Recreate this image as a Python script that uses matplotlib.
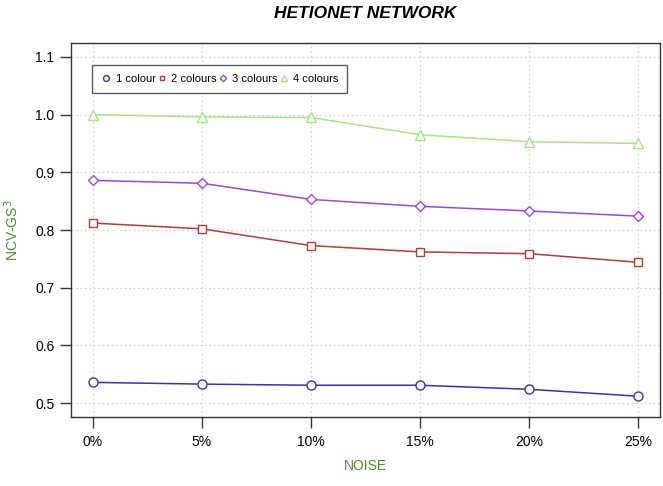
import matplotlib
matplotlib.use("Agg")
from matplotlib import pyplot as plt

plt.rcParams['font.family'] = ['Liberation Sans', 'DejaVu Sans']

noise = [0, 5, 10, 15, 20, 25]
noise_labels = ["0%", "5%", "10%", "15%", "20%", "25%"]

one_colour = [0.536, 0.533, 0.531, 0.531, 0.524, 0.512]
two_colours = [0.812, 0.802, 0.773, 0.762, 0.759, 0.744]
three_colours = [0.886, 0.881, 0.853, 0.841, 0.833, 0.824]
four_colours = [1.0, 0.996, 0.995, 0.965, 0.953, 0.950]

y_ticks = [0.5, 0.6, 0.7, 0.8, 0.9, 1.0, 1.1]

series = [
	(one_colour, "1 colour", "o", "#3535b0"),
	(two_colours, "2 colours", "s", "#b53a3a"),
	(three_colours, "3 colours", "D", "#9b45e0"),
	(four_colours, "4 colours", "^", "#a3e67a"),
]

fig = plt.figure(figsize=(6.63, 4.86), dpi=100)
ax = fig.add_axes([71 / 663, 1 - 417 / 486, 589 / 663, 374 / 486])

for values, label, marker, color in series:
	ms = {"o": 6.5, "s": 5.5, "D": 5, "^": 6.5}[marker]
	ax.plot(noise, values, "-", color=color, marker=marker, markersize=ms,
	        markerfacecolor="white", markeredgecolor=color, markeredgewidth=1,
	        linewidth=1.1, label=label, zorder=3)

ax.set_xlim(-1, 26)
ax.set_ylim(0.476, 1.124)
ax.set_xticks(noise)
ax.set_xticklabels(noise_labels)
ax.set_yticks(y_ticks)
ax.set_yticklabels(["%.1f" % v for v in y_ticks])
ax.grid(True, color="#d0d0d0", linestyle=(0, (1.5, 2.5)), linewidth=0.8)
ax.set_axisbelow(True)

for s in ax.spines.values():
	s.set_color("#333333")
	s.set_linewidth(1)
ax.tick_params(direction="out", length=8, width=1, color="#333333",
               labelsize=10, pad=4)
ax.tick_params(axis="x", pad=5)

ax.set_title("HETIONET NETWORK", fontsize=12.5, fontweight="bold",
             fontstyle="italic", pad=18)
ax.set_xlabel("NOISE", fontsize=10, color="#4c8b2b", labelpad=7)
ax.set_ylabel("NCV-GS$^3$", fontsize=10, color="#4c8b2b", labelpad=10)

leg = ax.legend(loc="upper left", bbox_to_anchor=(0.036, 0.94), ncol=4,
                fontsize=8, frameon=True, fancybox=False, markerscale=0.65,
                handlelength=0.9, handletextpad=0.4, columnspacing=0.1,
                borderpad=0.8, borderaxespad=0)
leg.get_frame().set_edgecolor("#333333")
leg.get_frame().set_linewidth(1)
for h in leg.legend_handles:
	h.set_linestyle("none")

fig.savefig("out.png", dpi=100)
